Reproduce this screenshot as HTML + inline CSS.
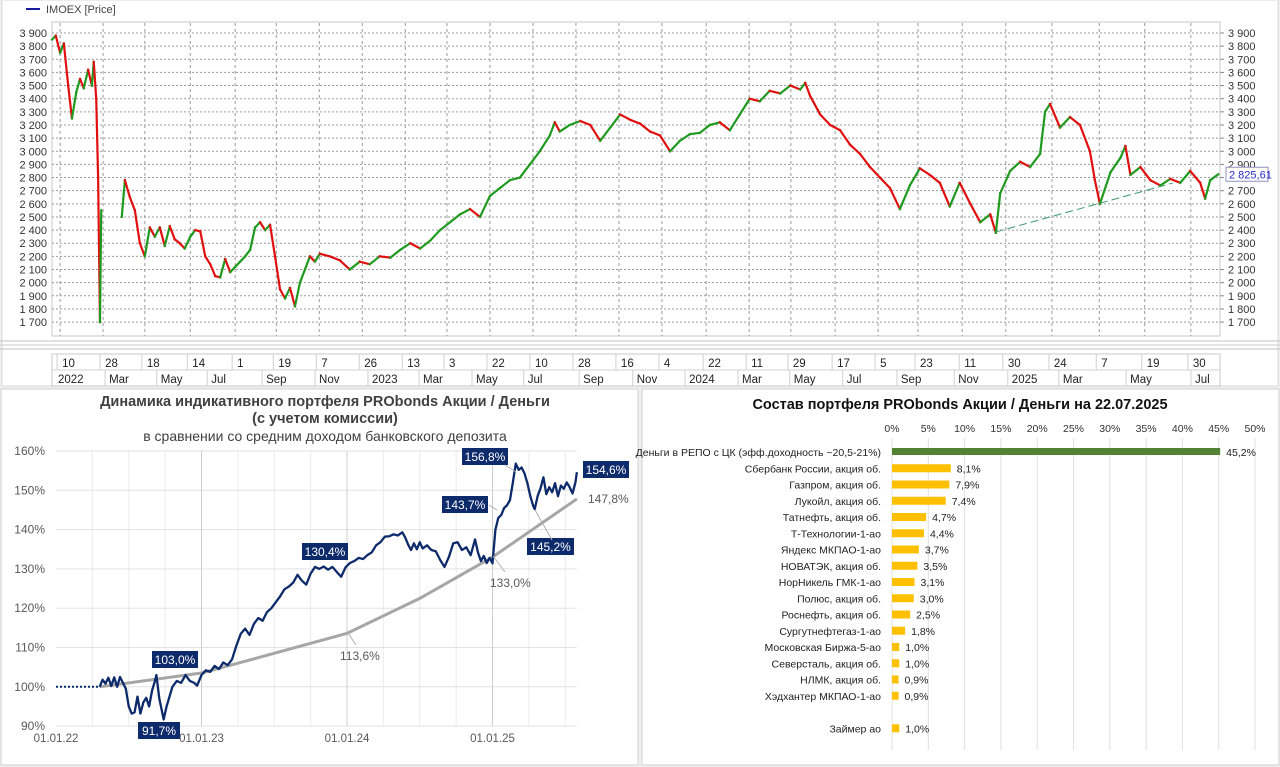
<!DOCTYPE html>
<html><head><meta charset="utf-8">
<style>
html,body{margin:0;padding:0;background:#fff;width:1280px;height:767px;overflow:hidden}
svg{display:block;font-family:"Liberation Sans","DejaVu Sans",sans-serif}
</style></head>
<body>
<svg id="root" width="1280" height="767" viewBox="0 0 1280 767">
<rect x="0" y="0" width="1280" height="767" fill="#f0f0f0"/>
<g id="topchart">
<rect x="2" y="0" width="1276" height="386" fill="#ffffff" stroke="#d8d8d8"/>
<line x1="26" y1="9" x2="40" y2="9" stroke="#1a1aa0" stroke-width="2"/>
<text x="46" y="13" font-size="11" fill="#444">IMOEX [Price]</text>
<rect x="52" y="22" width="1168" height="314" fill="#fff" stroke="#c8c8c8"/>
<line x1="0" y1="341" x2="1280" y2="341" stroke="#c0c0c0"/>
<line x1="0" y1="345" x2="1280" y2="345" stroke="#c8c8c8"/>
<line x1="0" y1="349" x2="1280" y2="349" stroke="#c0c0c0"/>
<rect x="52" y="354" width="1168" height="32" fill="#fff" stroke="#c8c8c8"/>
<line x1="52" y1="370" x2="1220" y2="370" stroke="#d0d0d0"/>
</g>
<g id="blchart">
<rect x="1" y="389" width="637" height="376" fill="#fff" stroke="#d0d0d0"/>
<text x="325" y="406" font-size="14.5" font-weight="bold" fill="#404040" text-anchor="middle">Динамика индикативного  портфеля PRObonds Акции / Деньги</text>
<text x="325" y="423" font-size="14.5" font-weight="bold" fill="#404040" text-anchor="middle">(с учетом комиссии)</text>
<text x="325" y="441" font-size="14" fill="#404040" text-anchor="middle">в сравнении со средним доходом банковского депозита</text>
</g>
<g id="brchart">
<rect x="642" y="389" width="637" height="376" fill="#fff" stroke="#d0d0d0"/>
<text x="960" y="409" font-size="14.5" font-weight="bold" fill="#111" text-anchor="middle">Состав портфеля PRObonds Акции / Деньги на 22.07.2025</text>
</g>
</svg>
<script>
// ===== Top IMOEX chart data =====
const priceWeeks=[0,0.6,1.3,1.9,2.6,3.2,3.9,4.5,5.1,5.8,6.4,6.7,7.1,7.4,7.7,7.9,null,11.2,11.7,12.5,13.3,14.1,14.9,15.7,16.5,17.3,18.1,18.9,19.7,20.5,21.3,22.2,23.0,23.8,24.6,25.4,26.2,27.0,27.8,28.6,29.4,30.2,31.0,31.8,32.6,33.4,34.2,35.0,35.8,36.6,37.4,38.2,39.0,39.8,40.6,41.4,42.2,43.0,44.6,46.2,47.8,49.4,51.0,52.6,54.3,55.9,57.5,59.1,60.7,62.3,63.9,65.5,67.1,68.7,70.3,71.9,73.5,75.1,76.7,78.3,79.9,80.7,81.5,83.1,84.8,86.4,88.0,89.6,91.2,92.8,94.4,96.0,97.6,99.2,100.8,102.4,104.0,105.6,107.2,108.8,110.4,112.0,113.6,115.2,116.9,118.5,120.1,120.9,121.7,123.3,124.9,126.5,128.1,129.7,131.3,132.9,134.5,136.1,137.7,139.3,140.9,142.5,144.1,145.7,147.4,149.0,150.6,151.5,152.2,153.8,155.4,157.0,158.6,159.4,160.2,161.8,163.4,165.0,166.6,167.4,168.2,169.9,171.5,172.3,173.1,174.7,176.3,177.9,179.5,181.1,182.7,184.3,185.1,185.9,187.2];
const priceCloses=[3850,3880,3750,3820,3500,3250,3450,3550,3480,3620,3500,3680,3400,2800,1700,2550,null,2500,2780,2650,2550,2300,2200,2420,2350,2420,2280,2430,2330,2300,2260,2350,2400,2390,2200,2140,2050,2040,2180,2080,2120,2160,2200,2250,2420,2460,2400,2440,2200,1950,1880,1960,1820,2000,2100,2200,2160,2220,2200,2170,2100,2160,2140,2200,2190,2250,2300,2260,2320,2400,2460,2520,2560,2500,2660,2720,2780,2800,2900,3000,3120,3220,3150,3200,3230,3200,3080,3180,3280,3240,3210,3150,3120,3000,3080,3130,3140,3200,3220,3160,3280,3400,3380,3460,3440,3500,3470,3520,3420,3280,3200,3160,3050,2980,2880,2800,2720,2560,2740,2870,2820,2760,2580,2760,2600,2460,2520,2380,2680,2850,2920,2880,2980,3300,3360,3180,3260,3200,3000,2780,2600,2840,2950,3040,2820,2880,2780,2740,2790,2760,2850,2760,2640,2780,2825];
const priceTicks=[3900,3800,3700,3600,3500,3400,3300,3200,3100,3000,2900,2800,2700,2600,2500,2400,2300,2200,2100,2000,1900,1800,1700];
const gridWeeks=[1.3,8.2,14.9,22.2,29.4,36.0,42.9,49.8,56.7,63.4,70.3,77.2,84.1,91.0,97.9,105.0,111.9,118.6,125.7,132.6,139.0,146.1,153.1,160.5,168.1,175.4,182.8];
const dayLabels=["10","28","18","14","1","19","7","26","13","3","22","10","28","16","4","22","11","29","17","5","23","11","30","24","7","19","30"];
const monthWeeks=[0.8,9.0,17.3,25.4,34.2,42.7,51.2,59.4,67.9,76.2,85.1,93.7,102.1,110.6,118.9,127.4,136.1,145.3,153.9,162.1,172.9,183.3];
const monthLabels=["2022","Mar","May","Jul","Sep","Nov","2023","Mar","May","Jul","Sep","Nov","2024","Mar","May","Jul","Sep","Nov","2025","Mar","May","Jul"];
const trendWeeks=[151.5,179.9];
const trendPrices=[2386,2758];
const lastPrice="2 825,61";

// ===== Bottom-left portfolio data =====
const portYears=[2022.30,2022.32,2022.34,2022.36,2022.38,2022.40,2022.42,2022.44,2022.46,2022.48,2022.50,2022.52,2022.54,2022.56,2022.58,2022.60,2022.62,2022.64,2022.66,2022.68,2022.69,2022.71,2022.73,2022.74,2022.76,2022.78,2022.80,2022.83,2022.86,2022.89,2022.92,2022.95,2022.97,2023.00,2023.03,2023.06,2023.09,2023.12,2023.15,2023.18,2023.21,2023.24,2023.27,2023.30,2023.33,2023.36,2023.39,2023.42,2023.45,2023.48,2023.51,2023.54,2023.57,2023.60,2023.63,2023.66,2023.69,2023.72,2023.75,2023.78,2023.81,2023.84,2023.87,2023.90,2023.93,2023.96,2023.99,2024.02,2024.05,2024.08,2024.11,2024.14,2024.17,2024.20,2024.23,2024.26,2024.29,2024.32,2024.35,2024.38,2024.40,2024.42,2024.44,2024.46,2024.48,2024.50,2024.52,2024.55,2024.58,2024.61,2024.64,2024.67,2024.70,2024.73,2024.76,2024.79,2024.82,2024.85,2024.88,2024.90,2024.92,2024.94,2024.96,2024.98,2025.00,2025.02,2025.04,2025.06,2025.08,2025.10,2025.12,2025.14,2025.16,2025.18,2025.20,2025.22,2025.24,2025.26,2025.28,2025.29,2025.31,2025.33,2025.35,2025.37,2025.39,2025.41,2025.43,2025.45,2025.47,2025.49,2025.51,2025.53,2025.55,2025.57,2025.58];
const portValues=[100,101.8,100.8,102.3,100.2,102.4,100,102.5,101,99.5,95,93.2,93.5,97.5,93.2,96,97.2,95,99,101.5,103,97,93.5,91.7,95,97.5,100,101.5,101,103,101.5,101,100.3,103,104.2,103.8,105.3,104.5,106.2,105.5,107,110.5,113.5,114.8,113.2,116,117.5,116.8,119,120,121.5,123,124.8,125.5,126.5,128.5,127,126,128.8,130.5,130,130.6,129.8,130.5,129.2,128,130.4,131.5,132,132.8,132.5,133.5,134.2,136,136.8,138.2,138.3,138.8,138.5,139.3,138,136.2,134.8,136.5,135,136.8,135.2,136,134.8,134.5,132.3,130.5,133,136.5,136.8,134.8,135.5,133.5,137.5,134.2,132,133.3,131.5,132.8,131.4,140,143,143.7,145.5,146.2,147.5,152,156.8,155.2,155.8,154.3,151.8,148.5,146,145.2,148.5,150.5,153.3,149,150.8,149.5,151.8,148.5,151.2,150.4,152,150.8,149.2,152,154.6];
const depYears=[2022.30,2023.00,2023.20,2024.00,2024.50,2025.00,2025.58];
const depValues=[100,103.5,105.5,113.6,122.5,133.0,147.8];
const pctTicks=[160,150,140,130,120,110,100,90];
const yearTicks=[2022,2023,2024,2025];
const yearLabels=["01.01.22","01.01.23","01.01.24","01.01.25"];

// ===== Bottom-right composition data =====
const holdNames=["Деньги в РЕПО с ЦК (эфф.доходность ~20,5-21%)","Сбербанк России, акция об.","Газпром, акция об.","Лукойл, акция об.","Татнефть, акция об.","Т-Технологии-1-ао","Яндекс МКПАО-1-ао","НОВАТЭК, акция об.","НорНикель ГМК-1-ао","Полюс, акция об.","Роснефть, акция об.","Сургутнефтегаз-1-ао","Московская Биржа-5-ао","Северсталь, акция об.","НЛМК, акция об.","Хэдхантер МКПАО-1-ао","Займер ао"];
const holdValues=[45.2,8.1,7.9,7.4,4.7,4.4,3.7,3.5,3.1,3.0,2.5,1.8,1.0,1.0,0.9,0.9,1.0];
const holdRows=[0,1,2,3,4,5,6,7,8,9,10,11,12,13,14,15,17];
const shareTicks=[0,5,10,15,20,25,30,35,40,45,50];

const NS="http://www.w3.org/2000/svg";
function mk(parent,tag,attrs,text){const e=document.createElementNS(NS,tag);for(const k in attrs)e.setAttribute(k,attrs[k]);if(text!==undefined)e.textContent=text;parent.appendChild(e);return e;}
const fmt=n=>String(n).replace(/\B(?=(\d{3})+(?!\d))/g," ");
const dec=v=>v.toFixed(1).replace(".",",");

// ---- top chart
const topG=document.getElementById("topchart");
const wx=w=>52+w*6.23;
const py=p=>33+(3900-p)/100*13.14;
priceTicks.forEach(p=>{
  const l=mk(topG,"line",{x1:52,x2:1220,y1:py(p),y2:py(p),stroke:"#9a9a9a","stroke-width":1,"stroke-dasharray":"2,2"});
  
  
  const t=mk(topG,"text",{x:47,y:py(p)+4,"font-size":11,fill:"#333","text-anchor":"end"},fmt(p));
  
  
  const t2=mk(topG,"text",{x:1228,y:py(p)+4,"font-size":11,fill:"#333"},fmt(p));
  
  
  mk(topG,"line",{x1:1220,x2:1224,y1:py(p),y2:py(p),stroke:"#888"});
});
gridWeeks.forEach((w,i)=>{
  const x=wx(w);
  const l=mk(topG,"line",{x1:x,x2:x,y1:23,y2:336,stroke:"#9a9a9a","stroke-dasharray":"3,3"});
  
  
  mk(topG,"line",{x1:x-3,x2:x-3,y1:354,y2:370,stroke:"#d0d0d0"});
  const t=mk(topG,"text",{x:x+2,y:367,"font-size":11.5,fill:"#222"},dayLabels[i]);
  
  
});
monthWeeks.forEach((w,i)=>{
  const x=wx(w);
  if(i>0) mk(topG,"line",{x1:x-3,x2:x-3,y1:370,y2:386,stroke:"#d0d0d0"});
  const t=mk(topG,"text",{x:x+1,y:383,"font-size":11.5,fill:"#222"},monthLabels[i]);
  
  
});
for(let i=1;i<priceCloses.length;i++){
  const a=priceCloses[i-1],b=priceCloses[i];
  if(a===null||b===null||priceWeeks[i]==null||priceWeeks[i-1]==null) continue;
  const s=mk(topG,"line",{x1:wx(priceWeeks[i-1]),y1:py(a),x2:wx(priceWeeks[i]),y2:py(b),stroke:b>=a?"#1f9a1f":"#e01010","stroke-width":2.2,"stroke-linecap":"square"});
  
  
}
const tl=mk(topG,"line",{x1:wx(trendWeeks[0]),y1:py(trendPrices[0]),x2:wx(trendWeeks[1]),y2:py(trendPrices[1]),stroke:"#3a9a6a","stroke-width":1,"stroke-dasharray":"8,4"});


const lp=priceCloses[priceCloses.length-1];
const lb=mk(topG,"rect",{x:1226,y:py(lp)-7,width:42,height:14,fill:"#fff",stroke:"#9090c0"});


const lt=mk(topG,"text",{x:1229,y:py(lp)+4,"font-size":11,fill:"#2a2ad0"},lastPrice);



// ---- bottom-left chart
const blG=document.getElementById("blchart");
const X=yr=>56+(yr-2022)*145.5;
const Y=v=>451+(160-v)*3.93;
for(let q=2022.25;q<2025.6;q+=0.25){
  if(Math.abs(q-Math.round(q))<0.01) continue;
  mk(blG,"line",{x1:X(q),x2:X(q),y1:Y(160),y2:Y(90),stroke:"#ececec"});
}
pctTicks.forEach(v=>{
  const l=mk(blG,"line",{x1:X(2022),x2:X(2025.58),y1:Y(v),y2:Y(v),stroke:"#e2e2e2"});
  
  
  const t=mk(blG,"text",{x:45,y:Y(v)+4,"font-size":12,fill:"#595959","text-anchor":"end"},v+"%");
  
  
});
yearTicks.forEach((y,i)=>{
  if(i>0) mk(blG,"line",{x1:X(y),x2:X(y),y1:Y(160),y2:Y(90),stroke:"#cfcfcf"});
  const t=mk(blG,"text",{x:X(y),y:742,"font-size":11.5,fill:"#595959","text-anchor":"middle"},yearLabels[i]);
  
  
});
const dl=mk(blG,"line",{x1:X(2022),y1:Y(100),x2:X(portYears[0]),y2:Y(100),stroke:"#0d2a6b","stroke-width":2,"stroke-dasharray":"2,2"});


const dep=mk(blG,"polyline",{points:depYears.map((y,i)=>X(y)+","+Y(depValues[i])).join(" "),fill:"none",stroke:"#a6a6a6","stroke-width":3});


const port=mk(blG,"polyline",{points:portYears.map((y,i)=>X(y)+","+Y(portValues[i])).join(" "),fill:"none",stroke:"#0d2a6b","stroke-width":2.3,"stroke-linejoin":"round"});


const anns=[[103.0,152,651,46],[91.7,138,722,42],[130.4,302,543,46],[143.7,442,496,46],[156.8,462,448,46],[154.6,583,461,46],[145.2,527,538,47]];
anns.forEach(a=>{
  const r=mk(blG,"rect",{x:a[1],y:a[2],width:a[3],height:17,fill:"#0d2a6b"});
  
  
  const t=mk(blG,"text",{x:a[1]+a[3]/2,y:a[2]+13,"font-size":12,fill:"#fff","text-anchor":"middle"},dec(a[0])+"%");
  
  
});
const gl=[[113.6,340,660],[133.0,490,587],[147.8,588,503]];
gl.forEach(a=>{
  const t=mk(blG,"text",{x:a[1],y:a[2],"font-size":12,fill:"#595959"},dec(a[0])+"%");
  
  
});
[[348,633,356,645],[493,556,505,572],[535,510,552,540],[505,465,516,472],[489,505,497,510]].forEach(l=>mk(blG,"line",{x1:l[0],y1:l[1],x2:l[2],y2:l[3],stroke:"#b0b0b0"}));

// ---- bottom-right bars
const brG=document.getElementById("brchart");
const BX=v=>892+v*7.26;
const RY=i=>452+i*16.25;
shareTicks.forEach(v=>{
  const l=mk(brG,"line",{x1:BX(v),x2:BX(v),y1:438,y2:750,stroke:"#e0e0e0"});
  
  
  const t=mk(brG,"text",{x:BX(v),y:432,"font-size":10.5,fill:"#333","text-anchor":"middle"},v+"%");
  
  
});
holdValues.forEach((v,i)=>{
  const y=RY(holdRows[i]);
  const r=mk(brG,"rect",{x:BX(0),y:y-4,width:BX(v)-BX(0),height:i===0?7:8,fill:i===0?"#548235":"#ffc000"});
  
  
  const n=mk(brG,"text",{x:881,y:y+4,"font-size":10.5,fill:"#222","text-anchor":"end"},holdNames[i]);
  
  
  const t=mk(brG,"text",{x:BX(v)+6,y:y+4,"font-size":10.5,fill:"#222"},dec(v)+"%");
  
  
});
</script>
</body></html>
